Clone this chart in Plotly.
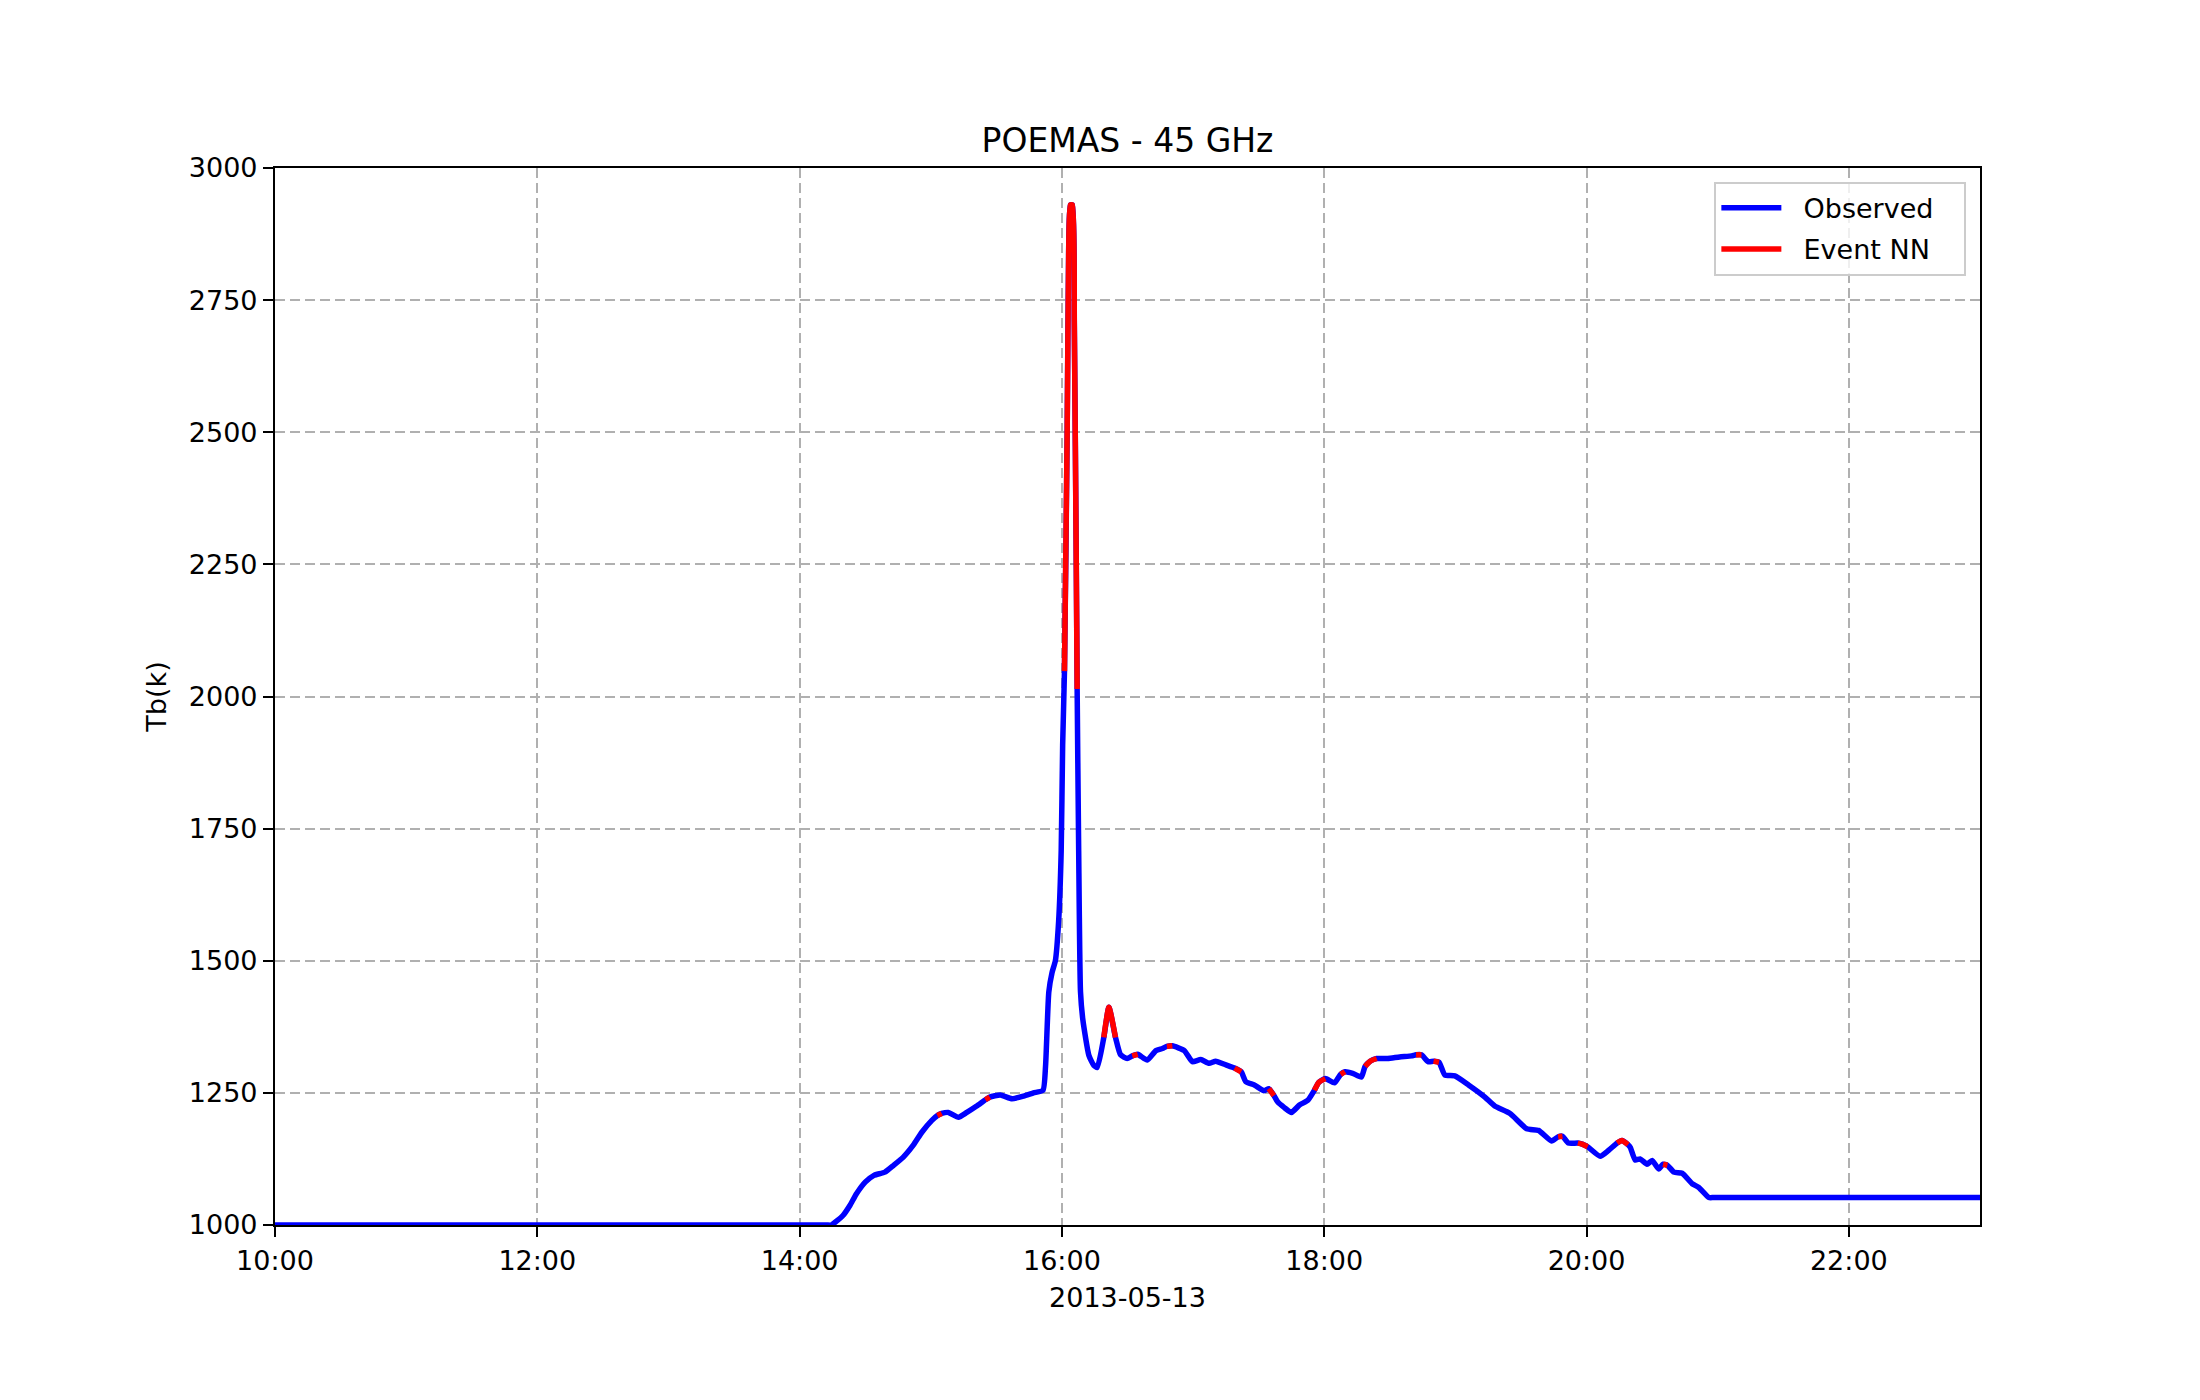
import plotly.graph_objects as go

DATE = "2013-05-13"

times = [
    "10:00:00", "14:10:00", "14:12:30", "14:14:30", "14:19:50", "14:23:00", "14:26:00", "14:30:00", "14:34:00",
    "14:39:00", "14:43:00", "14:47:20", "14:52:00", "14:56:00", "15:00:30", "15:03:00",
    "15:05:00", "15:08:00", "15:12:40", "15:16:30", "15:21:00", "15:25:00", "15:27:00",
    "15:31:50", "15:37:10", "15:42:30", "15:47:00", "15:51:20", "15:52:30", "15:54:00",
    "15:55:30", "15:57:00", "15:58:30", "15:59:40", "16:00:20", "16:01:10", "16:02:25", "16:03:05",
    "16:03:50", "16:04:50", "16:05:40", "16:06:35", "16:06:58", "16:07:40", "16:08:30",
    "16:09:35", "16:12:20", "16:14:35", "16:16:10", "16:19:10", "16:21:30", "16:24:30",
    "16:26:50", "16:29:50", "16:32:10", "16:34:40", "16:39:00", "16:43:00", "16:46:00",
    "16:48:00", "16:50:30", "16:56:00", "16:59:40", "17:03:30", "17:07:20", "17:10:20",
    "17:15:00", "17:19:00", "17:22:00", "17:24:10", "17:28:00", "17:32:30", "17:34:40",
    "17:37:00", "17:38:40", "17:41:45", "17:45:00", "17:48:40", "17:52:30", "17:55:30",
    "17:57:30", "18:00:30", "18:04:40", "18:07:30", "18:09:30", "18:13:00", "18:17:00",
    "18:18:40", "18:21:00", "18:24:00", "18:29:00", "18:34:30", "18:40:00", "18:42:00",
    "18:44:30", "18:47:30", "18:50:00", "18:52:30", "18:55:10", "18:59:45", "19:06:00",
    "19:13:30", "19:18:00", "19:25:00", "19:32:40", "19:38:00", "19:44:00", "19:47:00",
    "19:49:00", "19:51:40", "19:56:00", "19:58:00", "20:00:30", "20:06:15", "20:10:00",
    "20:14:00", "20:16:10", "20:19:00", "20:20:00", "20:22:15", "20:24:30", "20:27:40",
    "20:30:00", "20:33:00", "20:35:00", "20:37:00", "20:40:00", "20:43:45", "20:48:20",
    "20:51:20", "20:56:00", "20:58:00", "21:00:00", "23:00:00",
]

observed = [
    1000, 1000, 1000, 1000, 1018, 1037, 1059, 1081, 1094,
    1100, 1113, 1128, 1151, 1176, 1198, 1207,
    1211, 1213, 1204, 1213, 1225, 1237, 1242,
    1246, 1239, 1244, 1250, 1255, 1300, 1441,
    1478, 1500, 1575, 1708, 1908, 2048, 2507, 2841,
    2930, 2930, 2707, 2241, 2014, 1708, 1441,
    1388, 1321, 1302, 1298, 1355, 1412, 1355,
    1322, 1315, 1320, 1323, 1312, 1330, 1334,
    1338, 1339, 1330, 1309, 1313, 1306, 1310,
    1303, 1297, 1290, 1271, 1265, 1254, 1258,
    1245, 1233, 1222, 1213, 1227, 1236, 1255,
    1270, 1277, 1269, 1285, 1290, 1287, 1280,
    1300, 1310, 1315, 1315, 1318, 1320, 1322,
    1322, 1309, 1310, 1308, 1284, 1282, 1265,
    1242, 1225, 1211, 1182, 1179, 1159, 1167,
    1168, 1155, 1155, 1153, 1148, 1130, 1141,
    1155, 1160, 1152, 1147, 1123, 1125, 1115,
    1122, 1106, 1115, 1113, 1100, 1098, 1078,
    1071, 1052, 1052, 1052, 1052,
]

event_flag = [
    0, 0, 0, 0, 0, 0, 0, 0, 0,
    0, 0, 0, 0, 0, 0, 1,
    1, 0, 0, 0, 0, 1, 1,
    0, 0, 0, 0, 0, 0, 0,
    0, 0, 0, 0, 0, 1, 1, 1,
    1, 1, 1, 1, 1, 0, 0,
    0, 0, 0, 0, 1, 1, 1,
    0, 0, 1, 1, 0, 0, 0,
    1, 1, 0, 0, 0, 0, 0,
    0, 1, 1, 0, 0, 0, 1,
    1, 0, 0, 0, 0, 0, 1,
    1, 1, 0, 1, 1, 0, 0,
    1, 1, 1, 0, 0, 0, 1,
    1, 0, 1, 1, 0, 0, 0,
    0, 0, 0, 0, 0, 0, 1,
    1, 0, 1, 1, 1, 0, 0,
    1, 1, 1, 0, 0, 0, 0,
    0, 0, 1, 1, 0, 0, 0,
    0, 0, 0, 0, 0,
]

x = [f"{DATE} {t}" for t in times]
event_nn = [v if f else None for v, f in zip(observed, event_flag)]

fig = go.Figure()
fig.add_trace(go.Scatter(x=x, y=observed, mode="lines",
                         name="\u00a0\u00a0Observed\u00a0\u00a0\u00a0",
                         legendgroup="obs",
                         line=dict(color="#0000ff", width=5.5, shape="spline", smoothing=0.5)))
fig.add_trace(go.Scatter(x=x, y=event_nn, mode="lines", name="\u00a0\u00a0Event NN",
                         legendgroup="evt", connectgaps=False,
                         line=dict(color="#ff0000", width=5.5, shape="spline", smoothing=0.5)))

font_family = "DejaVu Sans, Liberation Sans, sans-serif"
# the page adds an 8px offset; margins compensate so the plot box sits at 275..1980 x 168..1225
fig.update_layout(
    width=2200, height=1400,
    paper_bgcolor="white", plot_bgcolor="white",
    margin=dict(l=267, r=228, t=160, b=183),
    font=dict(family=font_family, size=27, color="black"),
    title=dict(text="POEMAS - 45 GHz", x=(267 + 1972) / 2 / 2200, xanchor="center",
               y=1 - 132 / 1400, yanchor="middle", font=dict(size=33)),
    showlegend=True,
    legend=dict(x=0.992, y=0.987, xanchor="right", yanchor="top",
                bgcolor="rgba(255,255,255,0.8)", bordercolor="#cccccc", borderwidth=2,
                font=dict(size=27), itemwidth=60, tracegroupgap=3),
)
fig.update_xaxes(
    range=[f"{DATE} 10:00", f"{DATE} 23:00"],
    type="date", tick0=f"{DATE} 10:00", dtick=7200000, tickformat="%H:%M",
    title=dict(text=DATE, font=dict(size=27), standoff=14),
    showline=True, linecolor="black", linewidth=2.2, mirror=True,
    ticks="outside", ticklen=10, tickwidth=2.2, tickcolor="black",
    showgrid=True, gridcolor="#b0b0b0", gridwidth=2, griddash="10px,5px",
    zeroline=False, tickfont=dict(size=27),
)
fig.update_yaxes(
    range=[1000, 3000], tick0=1000, dtick=250,
    title=dict(text="Tb(k)", font=dict(size=27), standoff=14),
    showline=True, linecolor="black", linewidth=2.2, mirror=True,
    ticks="outside", ticklen=10, tickwidth=2.2, tickcolor="black",
    showgrid=True, gridcolor="#b0b0b0", gridwidth=2, griddash="10px,5px",
    zeroline=False, tickfont=dict(size=27),
)

fig.write_html("out.html")
